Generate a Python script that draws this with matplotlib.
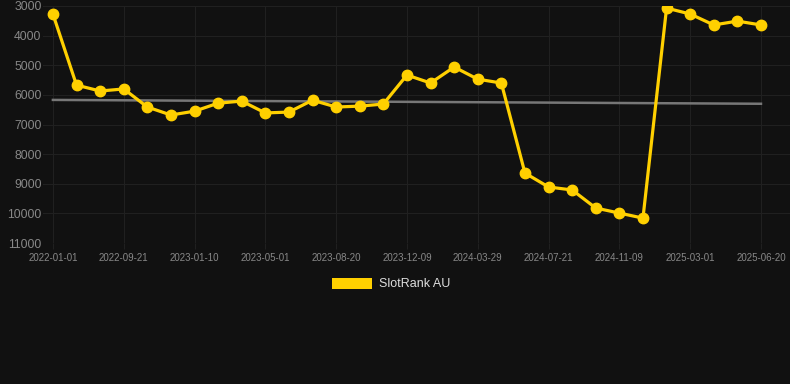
import matplotlib
matplotlib.use("Agg")
import matplotlib.pyplot as plt
from matplotlib.patches import Patch

plt.rcParams['font.family'] = ['Liberation Sans', 'DejaVu Sans']

tick_labels = ["2022-01-01", "2022-09-21", "2023-01-10", "2023-05-01", "2023-08-20",
               "2023-12-09", "2024-03-29", "2024-07-21", "2024-11-09", "2025-03-01",
               "2025-06-20"]
ranks = [3270, 5670, 5870, 5800, 6410, 6680, 6550, 6280, 6210, 6610,
         6580, 6180, 6410, 6380, 6310, 5330, 5600, 5060, 5470, 5600,
         8640, 9110, 9210, 9820, 9990, 10160, 3070, 3270, 3640, 3510, 3640]
trend = [6170, 6300]
series_name = "SlotRank AU"

bg = "#111111"
fig = plt.figure(figsize=(7.9, 3.84), dpi=100, facecolor=bg)
ax = fig.add_axes([43/790, 1-243/384, 1-43/790, (243-6)/384])
ax.set_facecolor(bg)

x = list(range(len(ranks)))
ax.plot(x, ranks, color="#FFD000", lw=2.3, marker="o", ms=7.5, zorder=3,
        solid_joinstyle="round")
ax.plot([x[0], x[-1]], trend, color="#777777", lw=1.8, zorder=2)

ax.set_ylim(11000, 3000)
ax.set_yticks(range(3000, 11001, 1000))
ax.set_xlim(-0.42, 31.23)
ax.set_xticks(x[::3])
ax.set_xticklabels(tick_labels)

ax.grid(True, color="#202020", lw=0.8)
for s in ax.spines.values():
    s.set_visible(False)
ax.tick_params(axis="y", length=0, colors="#888888", labelsize=8.8, pad=1)
ax.tick_params(axis="x", length=4, color="#202020", colors="#888888", labelsize=7, pad=3)

leg = fig.legend(handles=[Patch(facecolor="#FFD000", edgecolor="none", label=series_name)],
                 loc="center", bbox_to_anchor=(391/790, 1-284/384), frameon=False,
                 fontsize=9, labelcolor="#dddddd", handlelength=3.2, handleheight=0.96,
                 handletextpad=0.55)

fig.savefig("out.png", dpi=100, facecolor=bg)
